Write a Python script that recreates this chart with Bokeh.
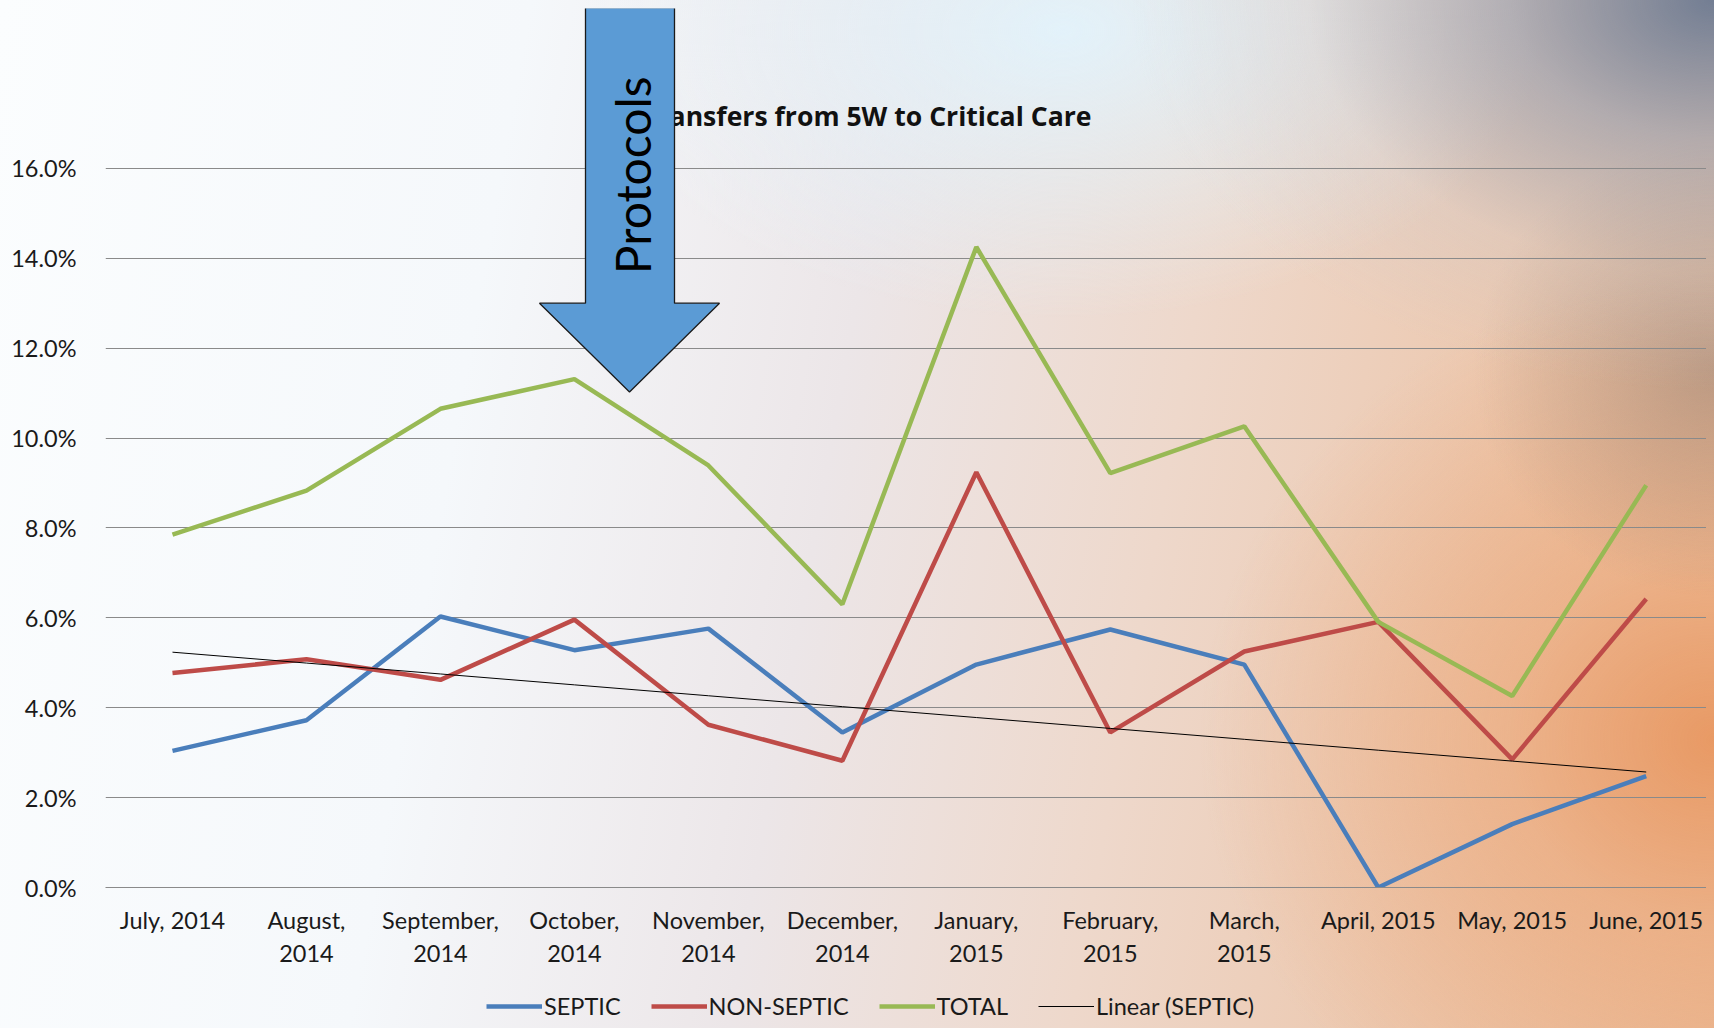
import numpy as np
from bokeh.plotting import figure
from bokeh.layouts import column
from bokeh.models import Range1d, FixedTicker, NumeralTickFormatter, Legend, LegendItem
from bokeh.core.properties import value
from bokeh.embed import file_html
from bokeh.resources import INLINE

# ---------------- data ----------------
months = ["July, 2014", "August,\n2014", "September,\n2014", "October,\n2014",
          "November,\n2014", "December,\n2014", "January,\n2015", "February,\n2015",
          "March,\n2015", "April, 2015", "May, 2015", "June, 2015"]
septic = [3.04, 3.72, 6.03, 5.28, 5.76, 3.45, 4.96, 5.74, 4.96, 0.00, 1.41, 2.48]
non_septic = [4.77, 5.08, 4.62, 5.96, 3.62, 2.82, 9.24, 3.45, 5.25, 5.91, 2.85, 6.42]
total = [7.85, 8.83, 10.65, 11.31, 9.39, 6.30, 14.25, 9.22, 10.26, 5.91, 4.26, 8.95]
y_ticks = [0, 2, 4, 6, 8, 10, 12, 14, 16]
title_text = "Transfers from 5W to Critical Care"
arrow_text = "Protocols"
series_names = ["SEPTIC", "NON-SEPTIC", "TOTAL", "Linear (SEPTIC)"]
series_colors = ["#4A7EBB", "#BE4B48", "#98B954", "#000000"]
series_widths = [4.5, 4.5, 4.5, 1]

xs = list(range(len(months)))
to_frac = lambda arr: [v / 100.0 for v in arr]
coef = np.polyfit(xs, to_frac(septic), 1)
trend = list(np.polyval(coef, xs))
series = [to_frac(septic), to_frac(non_septic), to_frac(total), trend]

FONT = "Lato"

p = figure(width=1698, height=962, output_backend="svg", toolbar_location=None,
           x_range=Range1d(-0.5, 11.45), y_range=Range1d(0, 0.19556),
           min_border_left=97, min_border_right=0, min_border_top=0, min_border_bottom=82)
p.background_fill_alpha = 0
p.border_fill_alpha = 0
p.outline_line_color = None

# page-pixel helper ranges for the annotations
p.extra_x_ranges = {"page": Range1d(105, 1706)}
p.extra_y_ranges = {"page": Range1d(-888, -8)}

# axes
p.xaxis.ticker = FixedTicker(ticks=xs)
p.xaxis.major_label_overrides = {i: m for i, m in enumerate(months)}
p.xaxis.major_tick_line_color = None
p.xaxis.minor_tick_line_color = None
p.xaxis.axis_line_color = "#8a8a8a"
p.xaxis.major_label_standoff = 12
p.yaxis.ticker = FixedTicker(ticks=[t / 100 for t in y_ticks])
p.yaxis.formatter = NumeralTickFormatter(format="0.0%")
p.yaxis.major_tick_line_color = None
p.yaxis.minor_tick_line_color = None
p.yaxis.axis_line_color = None
p.yaxis.major_label_standoff = 23
for ax in (p.xaxis[0], p.yaxis[0]):
    ax.major_label_text_font = FONT
    ax.major_label_text_font_size = "23.5px"
    ax.major_label_text_color = "#1a1a1a"

p.xgrid.grid_line_color = None
p.ygrid.grid_line_color = "#8a8a8a"
p.ygrid.grid_line_width = 1

# series
for ys, c, w in zip(series, series_colors, series_widths):
    p.line(xs, ys, line_color=c, line_width=w)

# title (partly hidden by the arrow, as in the original)
p.text(x=[1091], y=[-116], text=[title_text], x_range_name="page", y_range_name="page",
       text_align="right", text_baseline="middle", text_font=value("Open Sans"),
       text_font_style="bold", text_font_size="26.6px", text_color="#111111")

# arrow annotation
ax_ = [585, 674, 674, 719, 629, 539, 585]
ay_ = [-7, -7, -303, -303, -392, -303, -303]
p.patch(ax_, ay_, x_range_name="page", y_range_name="page",
        fill_color="#5B9BD5", line_color="#1a1a1a", line_width=1.3)
p.text(x=[632], y=[-175], text=[arrow_text], angle=np.pi / 2, x_range_name="page", y_range_name="page",
       text_align="center", text_baseline="middle", text_font=value(FONT),
       text_font_size="48px", text_color="#000000")

# legend strip under the chart (series drawn off-view so only the legend shows)
lg = figure(width=1698, height=50, output_backend="svg", toolbar_location=None,
            x_axis_location=None, y_axis_location=None,
            x_range=Range1d(100, 101), y_range=Range1d(100, 101),
            min_border_left=0, min_border_right=0, min_border_top=0, min_border_bottom=0)
lg.background_fill_alpha = 0
lg.border_fill_alpha = 0
lg.outline_line_color = None
lg.grid.visible = False
items = []
for n, ys, c, w in zip(series_names, series, series_colors, series_widths):
    r = lg.line(xs, ys, line_color=c, line_width=w)
    items.append(LegendItem(label=n, renderers=[r]))
legend = Legend(items=items, orientation="horizontal", location=(381, 0))
legend.label_text_font = FONT
legend.label_text_font_size = "23.5px"
legend.label_text_color = "#1a1a1a"
legend.glyph_width = 56
legend.glyph_height = 20
legend.spacing = 30
legend.label_standoff = 2
legend.padding = 0
legend.margin = 0
legend.background_fill_alpha = 0
legend.border_line_color = None
lg.add_layout(legend)

layout = column(p, lg, spacing=0)

html = file_html(layout, INLINE, title="Transfers from 5W to Critical Care")
style = """<style>
html { height: 100%; background:
  radial-gradient(ellipse 34% 38% at 100% 0%, rgba(108,122,146,0.95) 0%, rgba(140,155,178,0.6) 35%, rgba(185,200,218,0.2) 70%, rgba(220,232,242,0) 100%),
  radial-gradient(ellipse 14% 22% at 100% 36%, rgba(150,128,115,0.55) 0%, rgba(170,150,140,0) 100%),
  radial-gradient(ellipse 30% 45% at 100% 72%, rgba(232,150,95,0.9) 0%, rgba(236,170,125,0.65) 40%, rgba(240,200,175,0) 100%),
  radial-gradient(ellipse 28% 28% at 62% 3%, rgba(226,243,252,0.95) 0%, rgba(226,243,252,0) 100%),
  linear-gradient(100deg, #fbfdfe 0%, #f5f8fb 28%, #ece6e8 48%, #eed8cb 66%, #ecc6ab 85%, #eab995 100%);
}
body { margin: 8px; }
</style>"""
html = html.replace("</head>", style + "</head>", 1)
open("out.html", "w").write(html)
